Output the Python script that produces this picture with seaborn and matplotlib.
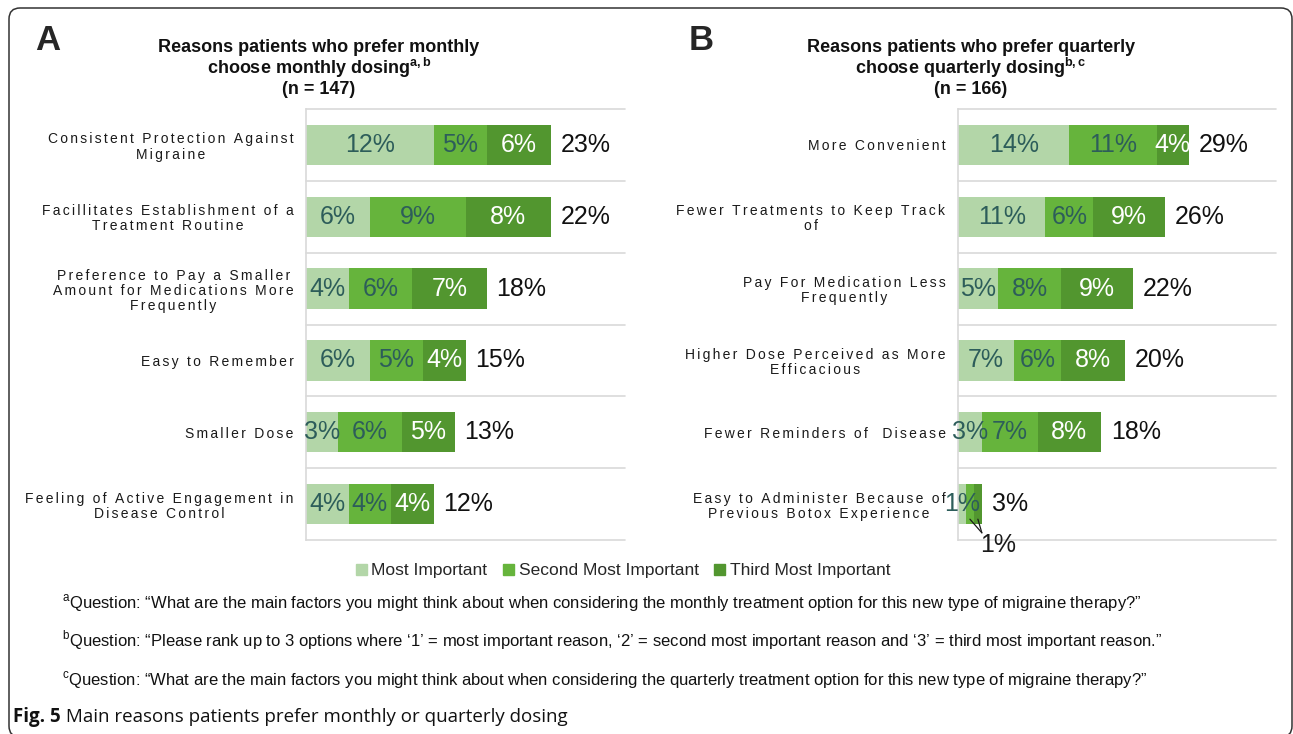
import matplotlib
matplotlib.use("Agg")
import matplotlib.pyplot as plt
import matplotlib.patches as mpatches
from matplotlib.transforms import IdentityTransform
import numpy as np
import pandas as pd
import seaborn as sns

# ---- data -------------------------------------------------------------
monthly_reasons = [
    "Consistent Protection Against\nMigraine",
    "Facillitates Establishment of a\nTreatment Routine",
    "Preference to Pay a Smaller\nAmount for Medications More\nFrequently",
    "Easy to Remember",
    "Smaller Dose",
    "Feeling of Active Engagement in\nDisease Control",
]
monthly_first = [12, 6, 4, 6, 3, 4]
monthly_second = [5, 9, 6, 5, 6, 4]
monthly_third = [6, 8, 7, 4, 5, 4]
monthly_total = [23, 22, 18, 15, 13, 12]

quarterly_reasons = [
    "More Convenient",
    "Fewer Treatments to Keep Track\nof",
    "Pay For Medication Less\nFrequently",
    "Higher Dose Perceived as More\nEfficacious",
    "Fewer Reminders of  Disease",
    "Easy to Administer Because of\nPrevious Botox Experience",
]
quarterly_first = [14, 11, 5, 7, 3, 1]
quarterly_second = [11, 6, 8, 6, 7, 1]
quarterly_third = [4, 9, 9, 8, 8, 1]
quarterly_total = [29, 26, 22, 20, 18, 3]

rank_names = ["Most Important", "Second Most Important", "Third Most Important"]

# ---- styling ----------------------------------------------------------
sns.set_style("white")
plt.rcParams["font.family"] = ["Liberation Sans", "DejaVu Sans"]
plt.rcParams["mathtext.fontset"] = "custom"
plt.rcParams["mathtext.rm"] = "Liberation Sans"

C_LIGHT = "#b3d6a8"
C_MID = "#66b43c"
C_DARK = "#52962f"
SEG_COLORS = [C_LIGHT, C_MID, C_DARK]
LABEL_COLORS = ["#2d5d5a", "#2d5d5a", "white"]
GRID = "#d9d9d9"
TRACK = "\u2006"  # six-per-em space used as letter tracking

W, H = 1293, 734
fig = plt.figure(figsize=(W / 100, H / 100), dpi=100)


def spaced(text):
    return "\n".join(TRACK.join(line) for line in text.split("\n"))


def draw_panel(rect, reasons, first, second, third, totals, xmax):
    ax = fig.add_axes(rect)
    df = pd.DataFrame({
        "reason": reasons,
        "first": first,
        "second": second,
        "third": third,
    })
    df["upto2"] = df["first"] + df["second"]
    df["upto3"] = df["upto2"] + df["third"]

    # stacked bars drawn back to front as cumulative lengths
    for col, color in zip(["upto3", "upto2", "first"], [C_DARK, C_MID, C_LIGHT]):
        sns.barplot(data=df, x=col, y="reason", orient="h", color=color,
                    saturation=1, width=0.56, errorbar=None, linewidth=0,
                    ax=ax)

    ax.set_xlim(0, xmax)
    ax.set_ylim(len(reasons) - 0.5, -0.5)
    ax.set_xlabel("")
    ax.set_ylabel("")
    ax.set_xticks([])
    ax.set_yticks(range(len(reasons)))
    ax.set_yticklabels([spaced(r) for r in reasons], fontsize=10,
                       color="#1a1a1a", linespacing=1.1)
    for t in ax.get_yticklabels():
        t.set_multialignment("center")
    ax.tick_params(axis="y", length=0, pad=9)
    for side in ["top", "right", "bottom"]:
        ax.spines[side].set_visible(False)
    ax.spines["left"].set_color(GRID)
    ax.spines["left"].set_linewidth(1.2)
    for b in np.arange(-0.5, len(reasons), 1.0):
        ax.axhline(b, color=GRID, lw=1.2, zorder=0, clip_on=False)

    segs = [df["first"].values, df["second"].values, df["third"].values]
    starts = [np.zeros(len(df)), df["first"].values, df["upto2"].values]
    for i in range(len(df)):
        callout_at = None
        for k in range(3):
            v = segs[k][i]
            cx = starts[k][i] + v / 2
            if k > 0 and v <= 1:
                # narrow segments share one value label below the bar
                if callout_at is None:
                    callout_at = (df["upto3"].values[i] + 2.0, i + 0.57)
                    ax.text(*callout_at, f"{v}%", fontsize=18,
                            color="#1a1a1a", ha="center", va="center")
                ax.annotate("", xy=(cx, i + 0.21),
                            xytext=(callout_at[0] - 2.0, callout_at[1] - 0.17),
                            arrowprops=dict(arrowstyle="-", color="#1a1a1a",
                                            lw=0.9, shrinkA=0, shrinkB=0))
            else:
                ax.text(cx, i, f"{v}%", ha="center", va="center",
                        fontsize=18, color=LABEL_COLORS[k])
        ax.annotate(f"{totals[i]}%", xy=(df["upto3"].values[i], i),
                    xytext=(7, 0), textcoords="offset points",
                    ha="left", va="center", fontsize=18, color="#111111")
    return ax


ax_a = draw_panel([306 / W, 1 - 540 / H, 319 / W, 431 / H], monthly_reasons,
                  monthly_first, monthly_second, monthly_third,
                  monthly_total, 30)
ax_b = draw_panel([958 / W, 1 - 540 / H, 318 / W, 431 / H], quarterly_reasons,
                  quarterly_first, quarterly_second, quarterly_third,
                  quarterly_total, 40)

# ---- panel letters and titles ----------------------------------------
fig.text(48 / W, 1 - 40 / H, "A", fontsize=25, fontweight="bold",
         ha="center", va="center")
fig.text(701 / W, 1 - 40 / H, "B", fontsize=25, fontweight="bold",
         ha="center", va="center")

title_kw = dict(fontsize=13, fontweight="bold", ha="center", va="center",
                color="#111111")
fig.text(319 / W, 1 - 47 / H, "Reasons patients who prefer monthly", **title_kw)
fig.text(319 / W, 1 - 68 / H, r"choose monthly dosing$^{\mathregular{a,b}}$",
         **title_kw)
fig.text(319 / W, 1 - 90 / H, "(n = 147)", **title_kw)
fig.text(971 / W, 1 - 47 / H, "Reasons patients who prefer quarterly",
         **title_kw)
fig.text(971 / W, 1 - 68 / H, r"choose quarterly dosing$^{\mathregular{b,c}}$",
         **title_kw)
fig.text(971 / W, 1 - 90 / H, "(n = 166)", **title_kw)

# ---- legend -----------------------------------------------------------
handles = [mpatches.Patch(color=c, label=n) for c, n in zip(SEG_COLORS, rank_names)]
fig.legend(handles=handles, loc="center", bbox_to_anchor=(623 / W, 1 - 571 / H),
           ncol=3, frameon=False, fontsize=12.5, handlelength=0.65,
           handleheight=0.65, handletextpad=0.25, columnspacing=0.9)

# ---- footnotes --------------------------------------------------------
notes = [
    r"$^{\mathregular{a}}$Question: “What are the main factors you might think about when considering the monthly treatment option for this new type of migraine therapy?”",
    r"$^{\mathregular{b}}$Question: “Please rank up to 3 options where ‘1’ = most important reason, ‘2’ = second most important reason and ‘3’ = third most important reason.”",
    r"$^{\mathregular{c}}$Question: “What are the main factors you might think about when considering the quarterly treatment option for this new type of migraine therapy?”",
]
for note, y in zip(notes, [603, 640, 680]):
    fig.text(62 / W, 1 - y / H, note, fontsize=12, ha="left", va="center",
             color="#111111")

# ---- caption ----------------------------------------------------------
cap_font = ["Open Sans", "DejaVu Sans"]
t1 = fig.text(13 / W, 1 - 717 / H, "Fig. 5", fontsize=13.5, fontweight="bold",
              ha="left", va="center", family=cap_font, color="#111111")
ax_a.annotate(" Main reasons patients prefer monthly or quarterly dosing",
              xy=(1, 0.5), xycoords=t1, ha="left", va="center",
              fontsize=13.5, family=cap_font, color="#111111",
              annotation_clip=False)

# ---- frame ------------------------------------------------------------
frame = mpatches.FancyBboxPatch((9, -3), 1283, H - 8 + 3,
                                boxstyle="round,pad=0,rounding_size=11",
                                transform=IdentityTransform(), fill=False,
                                edgecolor="#333333", linewidth=1.1)
fig.add_artist(frame)

fig.savefig("out.png", dpi=100)
